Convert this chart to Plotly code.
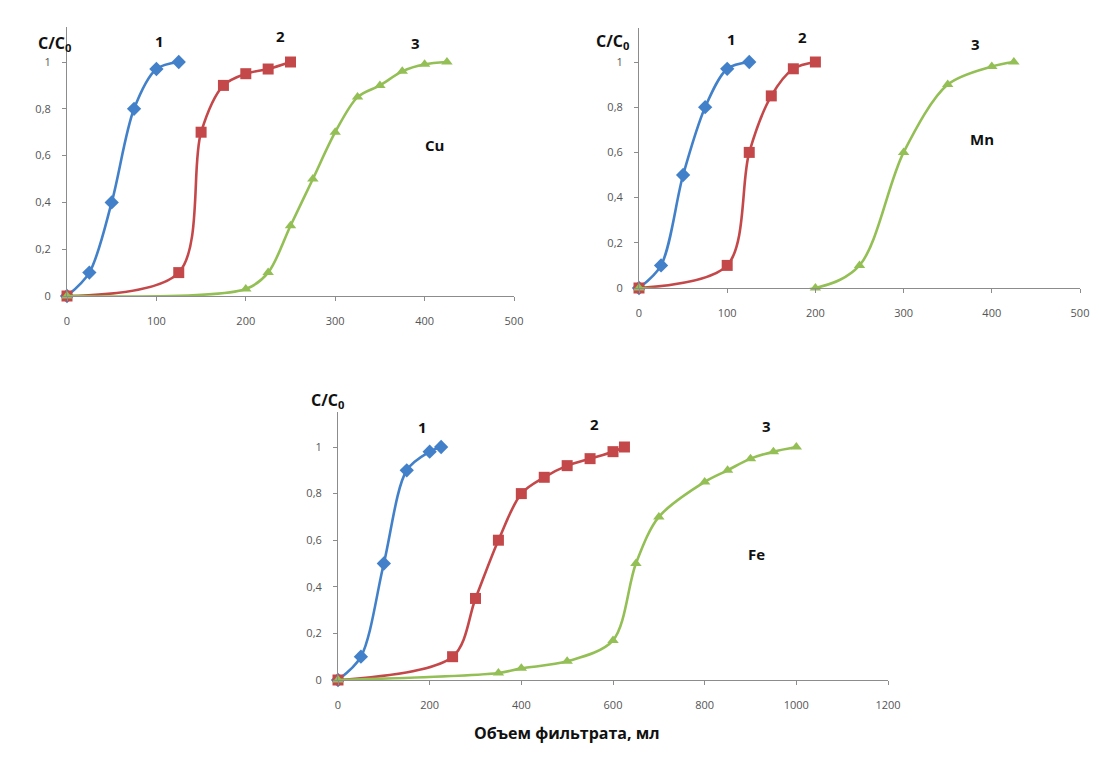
import plotly.graph_objects as go

# ---- data ----
cu_x1 = [0, 25, 50, 75, 100, 125]
cu_y1 = [0, 0.1, 0.4, 0.8, 0.97, 1.0]
cu_x2 = [0, 125, 150, 175, 200, 225, 250]
cu_y2 = [0, 0.1, 0.7, 0.9, 0.95, 0.97, 1.0]
cu_x3 = [0, 200, 225, 250, 275, 300, 325, 350, 375, 400, 425]
cu_y3 = [0, 0.03, 0.1, 0.3, 0.5, 0.7, 0.85, 0.9, 0.96, 0.99, 1.0]

mn_x1 = [0, 25, 50, 75, 100, 125]
mn_y1 = [0, 0.1, 0.5, 0.8, 0.97, 1.0]
mn_x2 = [0, 100, 125, 150, 175, 200]
mn_y2 = [0, 0.1, 0.6, 0.85, 0.97, 1.0]
mn_x3 = [0, 200, 250, 300, 350, 400, 425]
mn_y3 = [0, 0, 0.1, 0.6, 0.9, 0.98, 1.0]

fe_x1 = [0, 50, 100, 150, 200, 225]
fe_y1 = [0, 0.1, 0.5, 0.9, 0.98, 1.0]
fe_x2 = [0, 250, 300, 350, 400, 450, 500, 550, 600, 625]
fe_y2 = [0, 0.1, 0.35, 0.6, 0.8, 0.87, 0.92, 0.95, 0.98, 1.0]
fe_x3 = [0, 350, 400, 500, 600, 650, 700, 800, 850, 900, 950, 1000]
fe_y3 = [0, 0.03, 0.05, 0.08, 0.17, 0.5, 0.7, 0.85, 0.9, 0.95, 0.98, 1.0]

y_tickvals = [0, 0.2, 0.4, 0.6, 0.8, 1]
y_ticktext = ["0", "0,2", "0,4", "0,6", "0,8", "1"]
x_ticks_top = [0, 100, 200, 300, 400, 500]
x_ticks_fe = [0, 200, 400, 600, 800, 1000, 1200]

series_labels = ["1", "2", "3"]
x_title = "Объем фильтрата, мл"
y_title = "C/C<sub>0</sub>"

BLUE = "#4281C9"
RED = "#C4484A"
GREEN = "#93BF55"
FONT = "Open Sans"

fig = go.Figure()

def add_series(x, y, color, symbol, size, ax):
    fig.add_trace(go.Scatter(
        x=x, y=y, mode="lines+markers",
        line=dict(color=color, width=2.6, shape="spline", smoothing=0.9),
        marker=dict(color=color, symbol=symbol, size=size),
        cliponaxis=False, showlegend=False,
        xaxis="x" + ax, yaxis="y" + ax,
    ))

for (x1, y1, x2, y2, x3, y3, ax) in [
    (cu_x1, cu_y1, cu_x2, cu_y2, cu_x3, cu_y3, ""),
    (mn_x1, mn_y1, mn_x2, mn_y2, mn_x3, mn_y3, "2"),
    (fe_x1, fe_y1, fe_x2, fe_y2, fe_x3, fe_y3, "3"),
]:
    add_series(x1, y1, BLUE, "diamond", 11, ax)
    add_series(x2, y2, RED, "square", 11, ax)
    add_series(x3, y3, GREEN, "triangle-up", 10, ax)

axis_common = dict(
    showgrid=False, zeroline=False, showline=True,
    linecolor="#8C8C8C", linewidth=1,
    ticks="outside", ticklen=4, tickcolor="#8C8C8C",
    tickfont=dict(family=FONT, size=11, color="#555555"),
    automargin=False,
)

def xa(domain, tickvals, rng, anchor):
    d = dict(axis_common)
    d.update(domain=domain, range=rng, tickvals=tickvals,
             ticktext=[str(v) for v in tickvals], anchor=anchor,
             ticklabelstandoff=11)
    return d

def ya(domain, anchor):
    d = dict(axis_common)
    d.update(domain=domain, range=[0, 1.15], tickvals=y_tickvals,
             ticktext=y_ticktext, anchor=anchor, ticklabelstandoff=9)
    return d

W, H = 1099, 771
fig.update_layout(
    width=W, height=H,
    margin=dict(l=0, r=0, t=0, b=0, autoexpand=False),
    paper_bgcolor="white", plot_bgcolor="white",
    xaxis=xa([67 / W, 514 / W], x_ticks_top, [0, 500], "y"),
    yaxis=ya([1 - 296 / H, 1 - (296 - 1.15 * 234) / H], "x"),
    xaxis2=xa([639 / W, 1080 / W], x_ticks_top, [0, 500], "y2"),
    yaxis2=ya([1 - 288 / H, 1 - (288 - 1.15 * 226) / H], "x2"),
    xaxis3=xa([338 / W, 888 / W], x_ticks_fe, [0, 1200], "y3"),
    yaxis3=ya([1 - 680 / H, 1 - (680 - 1.15 * 233) / H], "x3"),
)

bold = dict(family=FONT, size=15, color="#111111")
ann = []
# series numbers and element names (data coords)
for ax, pos, elem, epos in [
    ("", [(104, 1.09), (239, 1.11), (390, 1.08)], "Cu", (411, 0.645)),
    ("2", [(105, 1.10), (185, 1.11), (382, 1.08)], "Mn", (389, 0.66)),
    ("3", [(185, 1.085), (559, 1.10), (934, 1.09)], "Fe", (912, 0.54)),
]:
    for lab, (px, py) in zip(series_labels, pos):
        ann.append(dict(x=px, y=py, xref="x" + ax, yref="y" + ax, text="<b>" + lab + "</b>",
                        showarrow=False, font=bold))
    ann.append(dict(x=epos[0], y=epos[1], xref="x" + ax, yref="y" + ax, text="<b>" + elem + "</b>",
                    showarrow=False, font=bold))

# y titles
for (px, py) in [(36, 30), (612, 28), (309, 400)]:
    ann.append(dict(x=px / W, y=1 - py / H, xref="paper", yref="paper",
                    text="<b>" + y_title + "</b>", showarrow=False,
                    font=dict(family=FONT, size=16, color="#111111")))

ann.append(dict(x=567 / W, y=1 - 746 / H, xref="paper", yref="paper",
                text="<b>" + x_title + "</b>", showarrow=False,
                font=dict(family=FONT, size=16, color="#111111")))

fig.update_layout(annotations=ann)
fig.write_html("out.html")
